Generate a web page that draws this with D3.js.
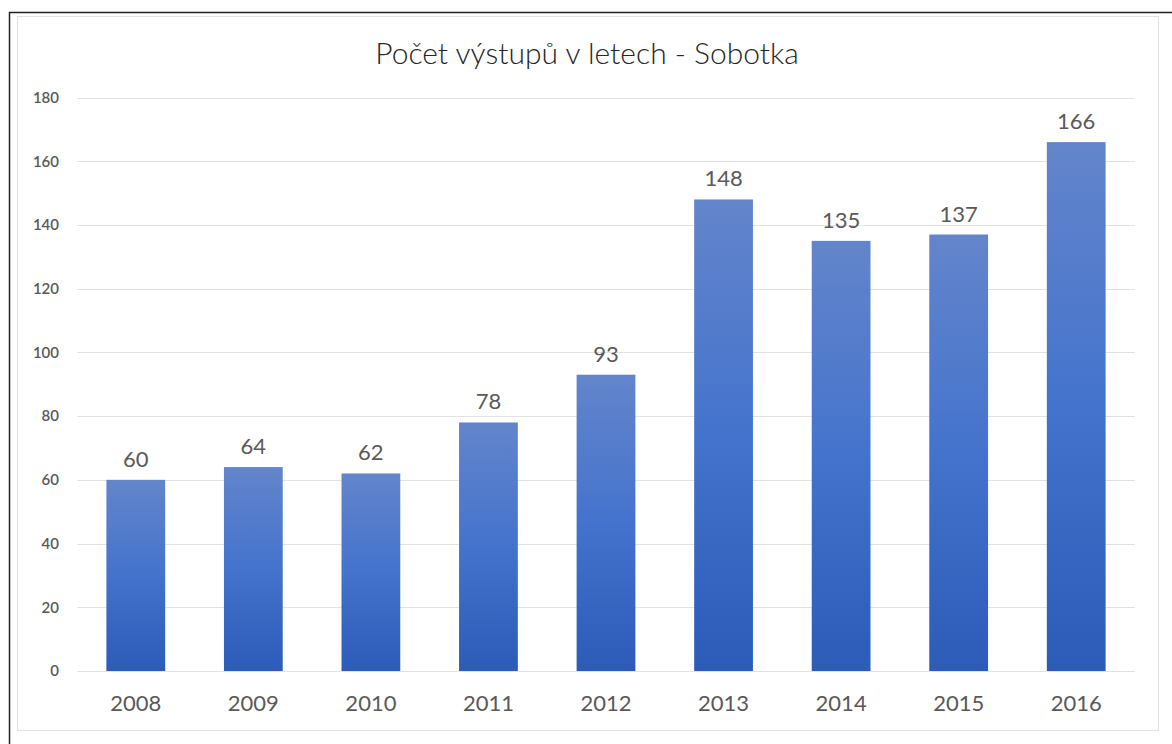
<!DOCTYPE html>
<html><head><meta charset="utf-8">
<script src="https://cdn.jsdelivr.net/npm/d3@7"></script>
<style>body{margin:0;background:#fff;}svg{display:block;}</style>
</head><body>
<svg id="c" width="1172" height="744"></svg>
<script>
const title = "Počet výstupů v letech - Sobotka";
const years = ["2008","2009","2010","2011","2012","2013","2014","2015","2016"];
const values = [60,64,62,78,93,148,135,137,166];
const yTicks = [0,20,40,60,80,100,120,140,160,180];

const svg = d3.select("#c");
const font = "Lato, 'Open Sans', sans-serif";

// frames
svg.append("rect").attr("x",9.5).attr("y",12.5).attr("width",1180).attr("height",760)
  .attr("fill","none").attr("stroke","#222").attr("stroke-width",1.5);
svg.append("rect").attr("x",17.5).attr("y",16.5).attr("width",1141).attr("height",714)
  .attr("fill","none").attr("stroke","#e3e3e3").attr("stroke-width",1);

const x = d3.scaleBand().domain(years).range([77,1135]).paddingInner(0.5).paddingOuter(0.25);
const y = d3.scaleLinear().domain([0,180]).range([671,97.5]);

const defs = svg.append("defs");
const g = defs.append("linearGradient").attr("id","bg").attr("x1",0).attr("y1",0).attr("x2",0).attr("y2",1);
g.append("stop").attr("offset","0%").attr("stop-color","#6385cb");
g.append("stop").attr("offset","50%").attr("stop-color","#4473cd");
g.append("stop").attr("offset","100%").attr("stop-color","#2c5bb8");

// gridlines
svg.append("g").selectAll("line").data(yTicks).join("line")
  .attr("x1",77).attr("x2",1135).attr("y1",d=>Math.round(y(d))+0.5).attr("y2",d=>Math.round(y(d))+0.5)
  .attr("stroke","#e2e2e2").attr("stroke-width",1);

// y axis labels
const yAxis = d3.axisLeft(y).tickValues(yTicks).tickSize(0).tickPadding(0);
const ya = svg.append("g").attr("transform","translate(59,0)").call(yAxis);
ya.select(".domain").remove();
ya.selectAll("text").attr("font-family",font).attr("font-size",15).attr("font-weight",600).attr("fill","#595959");

// bars
svg.append("g").selectAll("rect").data(values).join("rect")
  .attr("x",(d,i)=>x(years[i])).attr("width",x.bandwidth())
  .attr("y",d=>y(d)).attr("height",d=>y(0)-y(d))
  .attr("fill","url(#bg)");

// value labels
svg.append("g").selectAll("text").data(values).join("text")
  .attr("x",(d,i)=>x(years[i])+x.bandwidth()/2).attr("y",d=>y(d)-13)
  .attr("text-anchor","middle").attr("font-family",font).attr("font-size",22)
  .attr("fill","#595959").text(d=>d);

// x axis labels
const xAxis = d3.axisBottom(x).tickSize(0).tickPadding(0);
const xa = svg.append("g").attr("transform","translate(0,695)").call(xAxis);
xa.select(".domain").remove();
xa.selectAll("text").attr("font-family",font).attr("font-size",22).attr("fill","#595959");

// title
svg.append("text").attr("x",587).attr("y",64).attr("text-anchor","middle")
  .attr("font-family",font).attr("font-size",30).attr("font-weight",300).attr("fill","#262626").text(title);
</script>
</body></html>
